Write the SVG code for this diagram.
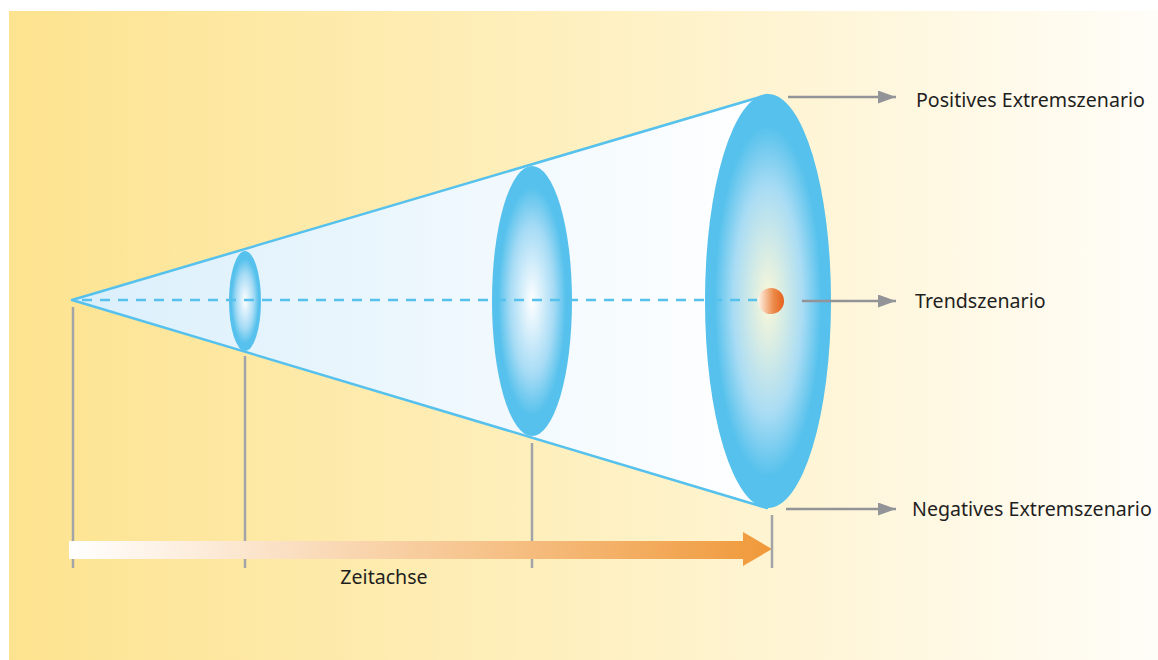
<svg xmlns="http://www.w3.org/2000/svg" width="1158" height="660" viewBox="0 0 1158 660">
<defs>
<linearGradient id="bg" x1="0" y1="0" x2="1" y2="0">
<stop offset="0" stop-color="#fde38f"/>
<stop offset="0.5" stop-color="#fef0c0"/>
<stop offset="1" stop-color="#fffdf8"/>
</linearGradient>
<linearGradient id="cone" x1="0" y1="0" x2="1" y2="0">
<stop offset="0" stop-color="#daeffb"/>
<stop offset="1" stop-color="#ffffff"/>
</linearGradient>
<radialGradient id="disc" cx="0.5" cy="0.5" r="0.5">
<stop offset="0" stop-color="#ffffff"/>
<stop offset="0.55" stop-color="#a6dbf5"/>
<stop offset="0.85" stop-color="#55c1ec"/>
<stop offset="1" stop-color="#55c1ec"/>
</radialGradient>
<radialGradient id="disc2" cx="0.5" cy="0.5" r="0.5">
<stop offset="0" stop-color="#fbf8d8"/>
<stop offset="0.55" stop-color="#a9dcf4"/>
<stop offset="0.85" stop-color="#55c1ec"/>
<stop offset="1" stop-color="#55c1ec"/>
</radialGradient>
<linearGradient id="ball" x1="0" y1="0" x2="1" y2="0">
<stop offset="0" stop-color="#fff6ea"/>
<stop offset="0.6" stop-color="#ec8a4a"/>
<stop offset="1" stop-color="#e5601a"/>
</linearGradient>
<linearGradient id="time" x1="69" y1="0" x2="772" y2="0" gradientUnits="userSpaceOnUse">
<stop offset="0" stop-color="#ffffff"/>
<stop offset="1" stop-color="#f0993a"/>
</linearGradient>
<marker id="ah" markerWidth="18" markerHeight="13" refX="18" refY="6.5" orient="auto" markerUnits="userSpaceOnUse" viewBox="0 0 18 13">
<path d="M0,0 L18,6.5 L0,13 z" fill="#939498"/>
</marker>
<style>
.lbl{font-family:"Noto Sans","Liberation Sans",Arial,sans-serif;font-size:19.6px;fill:#1f1f1f}
.gray{stroke:#939498;stroke-width:2.5;fill:none}
.tick{stroke:#a3a4a8;stroke-width:2.5;fill:none}
</style>
</defs>
<rect x="9" y="11" width="1149" height="649" fill="url(#bg)"/>
<g id="cone-body">
<polygon points="72,300 767,95 767,508" fill="url(#cone)" stroke="#55c1ec" stroke-width="2.5" stroke-linejoin="round"/>
</g>
<g id="disc-small"><ellipse cx="245" cy="301" rx="16" ry="50" fill="url(#disc)"/></g>
<g id="disc-mid"><ellipse cx="532" cy="301" rx="40" ry="135" fill="url(#disc)"/></g>
<g id="disc-large"><ellipse cx="768" cy="301" rx="63" ry="207" fill="url(#disc2)"/></g>
<g id="connectors">
<line x1="82" y1="300" x2="757" y2="300" stroke="#55c1ec" stroke-width="2.5" stroke-dasharray="10,8"/>
<line x1="788" y1="97" x2="896" y2="97" class="gray" marker-end="url(#ah)"/>
<line x1="802" y1="301" x2="896" y2="301" class="gray" marker-end="url(#ah)"/>
<line x1="786" y1="509" x2="896" y2="509" class="gray" marker-end="url(#ah)"/>
<line x1="73" y1="307" x2="73" y2="568" class="tick"/>
<line x1="245" y1="356" x2="245" y2="568" class="tick"/>
<line x1="532" y1="443" x2="532" y2="568" class="tick"/>
</g>
<g id="trend-ball"><circle cx="771" cy="301" r="13" fill="url(#ball)"/></g>
<g id="time-axis">
<path d="M69,541 H743 V532 L772,549 L743,566 V559 H69 z" fill="url(#time)"/>
<line x1="772" y1="515" x2="772" y2="568" class="tick"/>
<text x="384" y="584" class="lbl" text-anchor="middle">Zeitachse</text>
</g>
<g id="labels">
<text x="916" y="107" class="lbl">Positives Extremszenario</text>
<text x="915" y="308" class="lbl">Trendszenario</text>
<text x="912" y="516" class="lbl">Negatives Extremszenario</text>
</g>
</svg>
